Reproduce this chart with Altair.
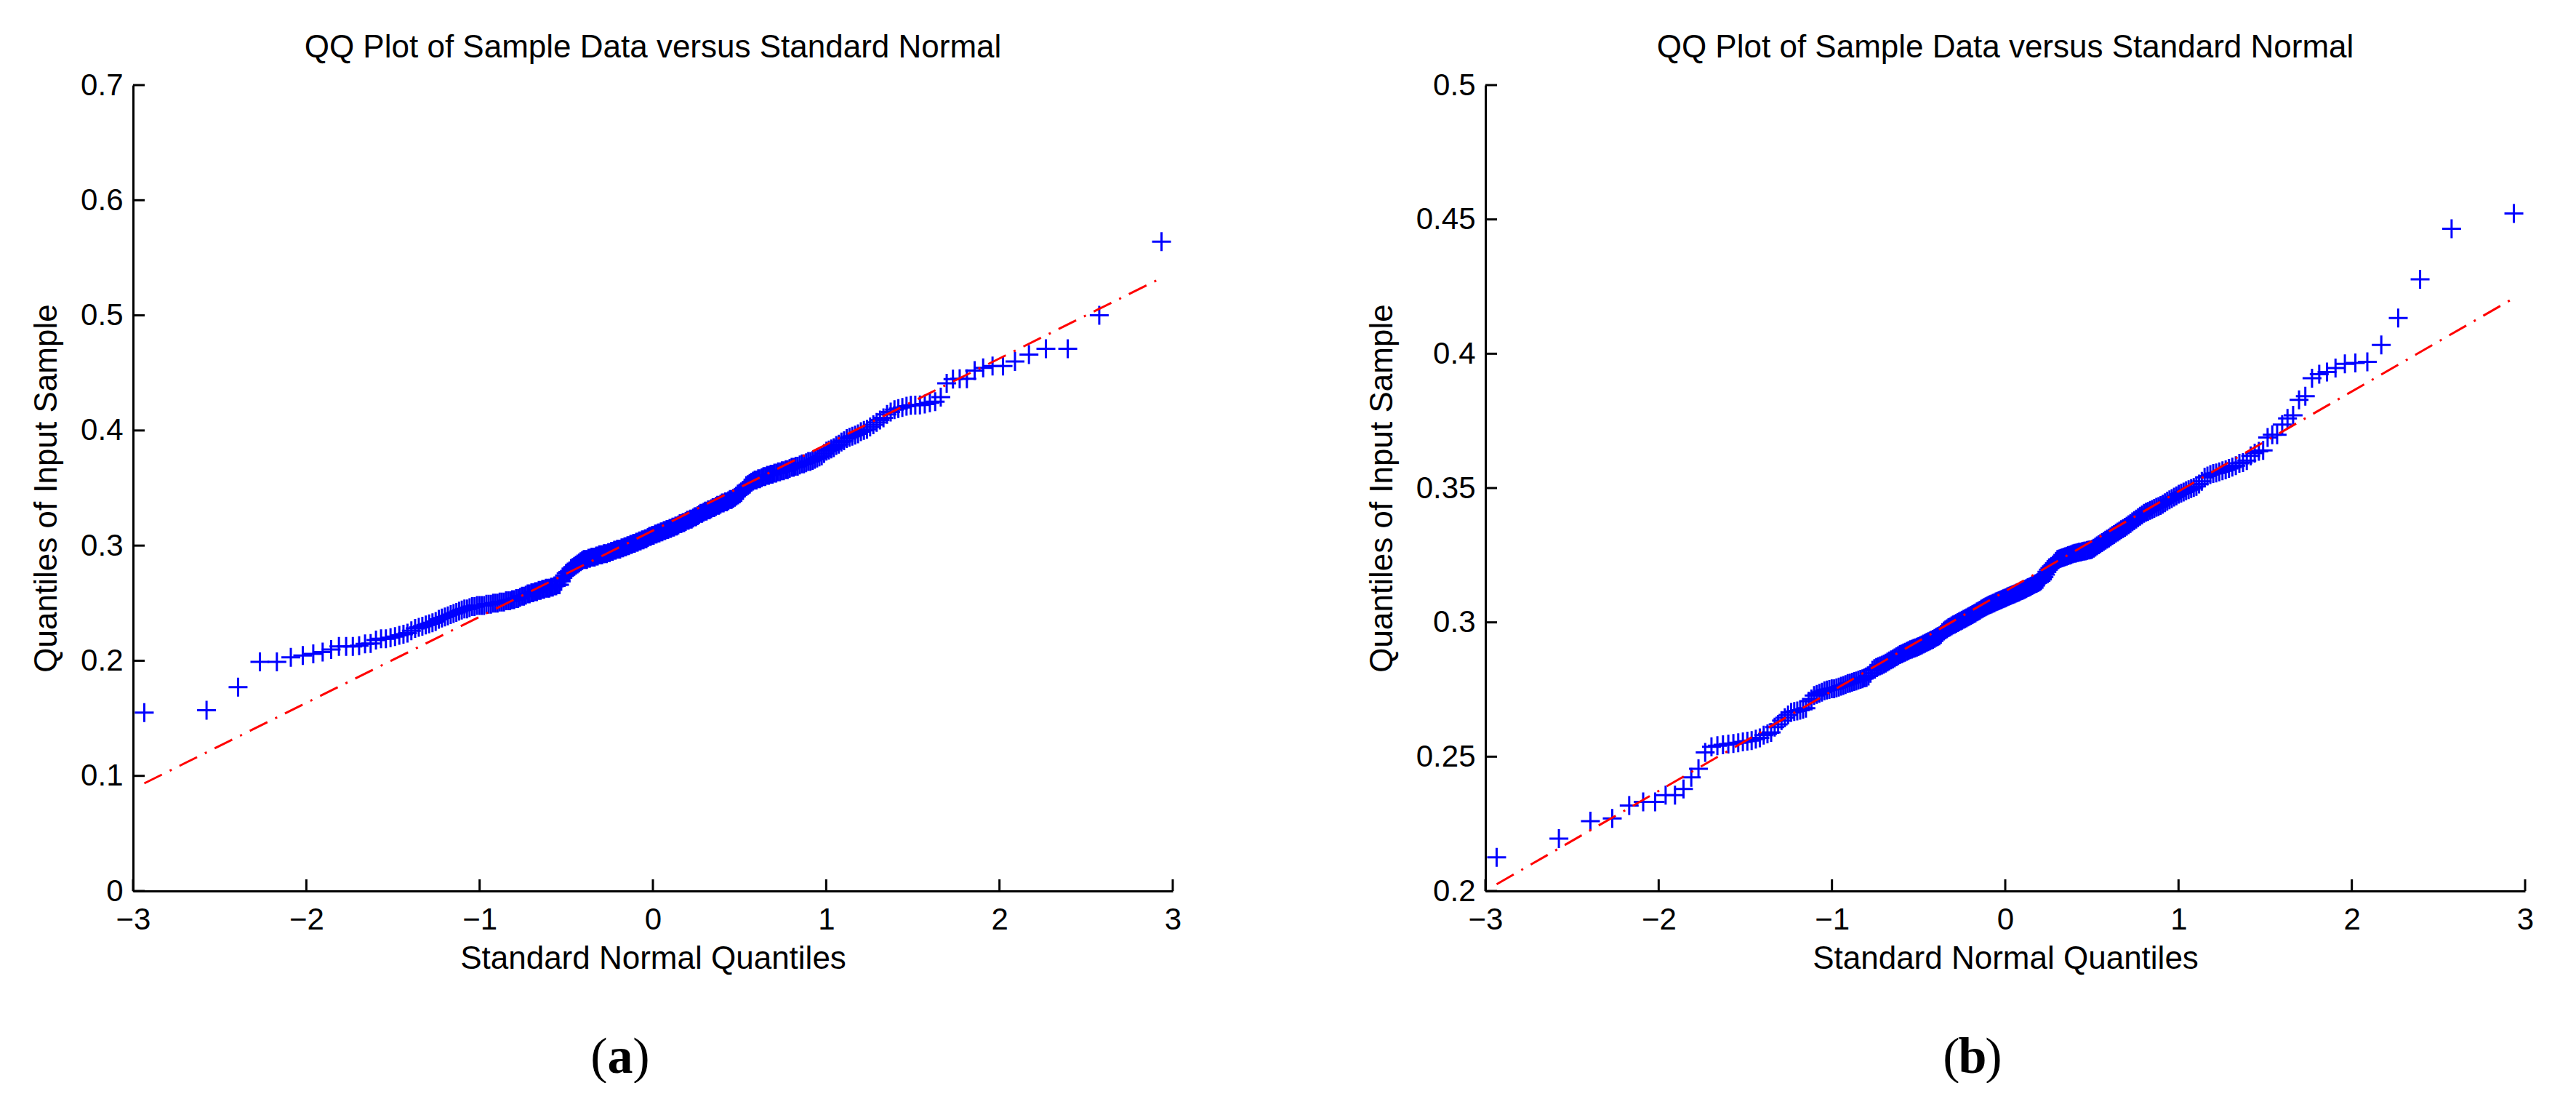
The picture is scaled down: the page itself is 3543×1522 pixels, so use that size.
import altair as alt
import pandas as pd

# ---------------- data (sorted sample values) ----------------
# panel (a)
a_low = [0.155, 0.157, 0.177, 0.199, 0.199, 0.203, 0.2045, 0.206, 0.2075, 0.2097,
         0.2125, 0.2125, 0.2125, 0.213, 0.2146, 0.215, 0.218, 0.219, 0.219, 0.220,
         0.221, 0.222, 0.223, 0.224, 0.226, 0.228, 0.229, 0.230, 0.231, 0.232,
         0.233, 0.234, 0.236, 0.237, 0.238, 0.239, 0.240, 0.241, 0.242, 0.243,
         0.244, 0.245, 0.245, 0.246, 0.247, 0.247, 0.248, 0.248]
a_mid = [0.248, 0.248, 0.249, 0.249, 0.249, 0.250, 0.250,
         0.250, 0.251, 0.251, 0.251, 0.252, 0.252, 0.252, 0.253, 0.253,
         0.254, 0.254, 0.255, 0.256, 0.256, 0.257, 0.258, 0.258, 0.259,
         0.259, 0.260, 0.260, 0.261, 0.261, 0.262, 0.262, 0.263, 0.263,
         0.263, 0.264, 0.264, 0.265, 0.265, 0.266, 0.266, 0.269, 0.272, 0.274, 0.276,
         0.277, 0.278, 0.280, 0.281, 0.282, 0.283, 0.284, 0.285, 0.286, 0.287, 0.288,
         0.288, 0.288, 0.289, 0.289, 0.290, 0.290, 0.290, 0.291, 0.291, 0.292, 0.292,
         0.292, 0.293, 0.293, 0.293, 0.294, 0.294, 0.295, 0.295, 0.296, 0.296, 0.297, 0.297,
         0.297, 0.298, 0.298, 0.299, 0.299, 0.300, 0.300, 0.301, 0.301, 0.302, 0.302, 0.303,
         0.303, 0.304, 0.304, 0.305, 0.305, 0.306, 0.306, 0.307, 0.308, 0.308, 0.309,
         0.309, 0.310, 0.310, 0.311, 0.311, 0.312, 0.312, 0.313, 0.313, 0.314, 0.314, 0.315,
         0.315, 0.316, 0.316, 0.317, 0.317, 0.318, 0.319, 0.319, 0.320, 0.320, 0.321, 0.322,
         0.322, 0.323, 0.323, 0.324, 0.325, 0.325, 0.326, 0.327, 0.328, 0.328, 0.329, 0.330,
         0.330, 0.331, 0.331, 0.332, 0.333, 0.333, 0.334, 0.335, 0.335, 0.336, 0.337,
         0.337, 0.338, 0.338, 0.339, 0.340, 0.340, 0.341, 0.342, 0.343, 0.344, 0.345,
         0.346, 0.348, 0.350, 0.352, 0.353, 0.354, 0.355, 0.356, 0.357, 0.357,
         0.358, 0.358, 0.359, 0.360, 0.360, 0.361, 0.361, 0.362, 0.362, 0.363,
         0.363, 0.364, 0.364, 0.365, 0.365, 0.366, 0.366, 0.367, 0.368,
         0.368, 0.369, 0.369, 0.370, 0.371, 0.371, 0.372, 0.373,
         0.373, 0.374, 0.375, 0.376, 0.377, 0.378, 0.380, 0.382,
         0.383, 0.384, 0.385, 0.387, 0.388, 0.390, 0.391]
a_high = [0.393, 0.394, 0.395, 0.396, 0.397, 0.399, 0.400, 0.401, 0.403, 0.405,
          0.407, 0.409, 0.411, 0.414, 0.416, 0.418, 0.419, 0.420, 0.421, 0.4218,
          0.422, 0.4222, 0.423, 0.424, 0.425, 0.429, 0.441, 0.4446, 0.445, 0.445,
          0.452, 0.4544, 0.456, 0.456, 0.460, 0.466, 0.471, 0.471, 0.500, 0.564]

# panel (b)
b_low = [0.2125, 0.2195, 0.226, 0.227, 0.2318, 0.2332, 0.2332, 0.2357, 0.2357, 0.238,
         0.2423, 0.2455, 0.2516, 0.2537, 0.2541, 0.2544, 0.2547, 0.2549, 0.2552, 0.2555,
         0.2558, 0.256, 0.2565, 0.257, 0.258, 0.2585, 0.259, 0.261, 0.262, 0.2634,
         0.2645, 0.2655, 0.2665, 0.2668, 0.267, 0.2673, 0.2676, 0.268, 0.2707, 0.2715,
         0.2728, 0.2732, 0.2736, 0.274, 0.2745, 0.2748, 0.275, 0.2753]
b_mid = [0.2753, 0.2756, 0.2759, 0.2762, 0.2765, 0.2768, 0.2772,
         0.2774, 0.2777, 0.2780, 0.2782, 0.2785, 0.2788, 0.2790, 0.2793, 0.2795,
         0.2800, 0.2810, 0.2822, 0.2828, 0.2832, 0.2835, 0.2838, 0.2841, 0.2844,
         0.2848, 0.2852, 0.2856, 0.2860, 0.2864, 0.2868, 0.2872, 0.2876, 0.2880,
         0.2883, 0.2886, 0.2889, 0.2892, 0.2895, 0.2898, 0.2900, 0.2903, 0.2905, 0.2908, 0.2910,
         0.2913, 0.2916, 0.2919, 0.2922, 0.2925, 0.2928, 0.2931, 0.2934, 0.2937, 0.2940, 0.2944,
         0.2947, 0.2950, 0.2955, 0.2962, 0.2968, 0.2972, 0.2976, 0.2980, 0.2983, 0.2987, 0.2990,
         0.2993, 0.2996, 0.2999, 0.3002, 0.3005, 0.3008, 0.3011, 0.3014, 0.3017, 0.3020, 0.3023, 0.3026,
         0.3029, 0.3032, 0.3035, 0.3039, 0.3042, 0.3045, 0.3049, 0.3052, 0.3055, 0.3058, 0.3061, 0.3064,
         0.3066, 0.3068, 0.3071, 0.3073, 0.3076, 0.3078, 0.3080, 0.3083, 0.3085, 0.3088, 0.3090,
         0.3092, 0.3095, 0.3097, 0.3099, 0.3102, 0.3104, 0.3106, 0.3109, 0.3111, 0.3113, 0.3116, 0.3118,
         0.3120, 0.3123, 0.3126, 0.3129, 0.3131, 0.3134, 0.3137, 0.3140, 0.3143, 0.3145, 0.3148, 0.3151,
         0.3155, 0.3160, 0.3168, 0.3178, 0.3188, 0.3196, 0.3202, 0.3208, 0.3214, 0.3220, 0.3227, 0.3234,
         0.3236, 0.3238, 0.3240, 0.3242, 0.3244, 0.3246, 0.3248, 0.3250, 0.3252, 0.3255, 0.3257,
         0.3258, 0.3260, 0.3261, 0.3262, 0.3264, 0.3265, 0.3266, 0.3268, 0.3269, 0.3270, 0.3272,
         0.3276, 0.3280, 0.3285, 0.3289, 0.3293, 0.3297, 0.3302, 0.3306, 0.3310, 0.3314,
         0.3318, 0.3323, 0.3327, 0.3332, 0.3336, 0.3340, 0.3345, 0.3349, 0.3354, 0.3358,
         0.3363, 0.3368, 0.3374, 0.3379, 0.3384, 0.3390, 0.3395, 0.3400, 0.3406,
         0.3410, 0.3413, 0.3417, 0.3420, 0.3424, 0.3428, 0.3431, 0.3435,
         0.3440, 0.3445, 0.3451, 0.3456, 0.3461, 0.3466, 0.3471, 0.3477,
         0.3481, 0.3485, 0.3490, 0.3494, 0.3498, 0.3502, 0.3506]
b_high = [0.3515, 0.3525, 0.354, 0.3545, 0.355, 0.3554, 0.3556, 0.356, 0.3564, 0.3568,
          0.3573, 0.3578, 0.3583, 0.3592, 0.3595, 0.3602, 0.362, 0.363, 0.3637, 0.364,
          0.3688, 0.3698, 0.3698, 0.3736, 0.3759, 0.3771, 0.3828, 0.3842, 0.3909, 0.3924,
          0.3932, 0.3947, 0.3962, 0.3966, 0.397, 0.4033, 0.4133, 0.4277, 0.4465, 0.4522]

# reference lines (end points)
line_x = [-2.935, 2.935]
line_a = [0.0935, 0.5325]
line_b = [0.2025, 0.4207]

# texts and ticks
chart_title = "QQ Plot of Sample Data versus Standard Normal"
x_title = "Standard Normal Quantiles"
y_title = "Quantiles of Input Sample"
x_ticks = [-3, -2, -1, 0, 1, 2, 3]
a_yticks = [0, 0.1, 0.2, 0.3, 0.4, 0.5, 0.6, 0.7]
b_yticks = [0.2, 0.25, 0.3, 0.35, 0.4, 0.45, 0.5]
a_ydomain = [0, 0.7]
b_ydomain = [0.2, 0.5]
captions = ["a", "b"]

# ---------------- chart ----------------
W, H = 1430, 1108
TICK = 16
SANS = "Liberation Sans"
SERIF = "Liberation Serif"
CROSS = "M-1,0L1,0M0,-1L0,1"


def panel(sample, line_y, ydom, yticks, caption):
    xscale = alt.Scale(domain=[-3, 3], nice=False, zero=False)
    yscale = alt.Scale(domain=ydom, nice=False, zero=False)

    main_x = alt.Axis(orient="bottom", values=x_ticks, format="~g", ticks=False, tickSize=0,
                      grid=False, title=x_title, labelFlush=False, labelPadding=19,
                      titlePadding=11, domainWidth=3)
    main_y = alt.Axis(orient="left", values=yticks, format="~g", ticks=False, tickSize=0,
                      grid=False, title=y_title, labelPadding=14, titlePadding=24,
                      domainWidth=3)

    pts = (
        alt.Chart(pd.DataFrame({"q": sample}))
        .transform_window(rank="row_number()", sort=[alt.SortField("q", "ascending")])
        .transform_joinaggregate(n="count()")
        .transform_calculate(z="quantileNormal((datum.rank - 0.5) / datum.n)")
        .mark_point(shape=CROSS, size=676, filled=False, strokeWidth=3,
                    color="#0000ff", opacity=1)
        .encode(x=alt.X("z:Q", scale=xscale, axis=main_x),
                y=alt.Y("q:Q", scale=yscale, axis=main_y))
    )
    line = (
        alt.Chart(pd.DataFrame({"lx": line_x, "ly": line_y}))
        .mark_line(color="#ff0000", strokeWidth=3, strokeDash=[27, 12, 3, 12])
        .encode(x=alt.X("lx:Q", scale=xscale, axis=main_x),
                y=alt.Y("ly:Q", scale=yscale, axis=main_y))
    )
    # inward-pointing tick marks (MATLAB style)
    xt = (
        alt.Chart(pd.DataFrame({"tx": x_ticks}))
        .mark_rule(color="black", strokeWidth=3)
        .encode(x=alt.X("tx:Q", scale=xscale, axis=main_x),
                y=alt.value(H), y2=alt.value(H - TICK))
    )
    yt = (
        alt.Chart(pd.DataFrame({"ty": yticks}))
        .mark_rule(color="black", strokeWidth=3)
        .encode(y=alt.Y("ty:Q", scale=yscale, axis=main_y),
                x=alt.value(0), x2=alt.value(TICK))
    )
    cx, cy = W / 2 - 45, H + 250
    cap_df = pd.DataFrame({"c": [caption]})
    cap = (
        alt.Chart(cap_df)
        .mark_text(font=SERIF, fontSize=70, fontWeight="bold",
                   baseline="alphabetic", align="center", color="black")
        .encode(x=alt.value(cx), y=alt.value(cy), text="c:N")
    )
    lpar = (
        alt.Chart(cap_df)
        .mark_text(font=SERIF, fontSize=70, fontWeight="normal", text="(",
                   baseline="alphabetic", align="center", color="black", dx=-29)
        .encode(x=alt.value(cx), y=alt.value(cy))
    )
    rpar = (
        alt.Chart(cap_df)
        .mark_text(font=SERIF, fontSize=70, fontWeight="normal", text=")",
                   baseline="alphabetic", align="center", color="black", dx=29)
        .encode(x=alt.value(cx), y=alt.value(cy))
    )
    return (
        alt.layer(pts, line, xt, yt, cap, lpar, rpar)
        .properties(width=W, height=H,
                    title=alt.TitleParams(chart_title, fontSize=44, font=SANS,
                                          fontWeight="normal", color="black",
                                          baseline="alphabetic", offset=-27))
    )


pa = panel(a_low + a_mid + a_high, line_a, a_ydomain, a_yticks, captions[0])
pb = panel(b_low + b_mid + b_high, line_b, b_ydomain, b_yticks, captions[1])

chart = (
    alt.hconcat(pa, pb, spacing=254)
    .properties(padding={"left": 34, "top": 36, "right": 0, "bottom": 0}, background="white")
    .configure_view(stroke=None)
    .configure_axis(labelFont=SANS, labelFontSize=42, labelColor="black",
                    titleFont=SANS, titleFontSize=44, titleFontWeight="normal",
                    titleColor="black", domainColor="black", tickColor="black")
)

chart.save("out.html", embed_options={"renderer": "svg", "actions": False})
